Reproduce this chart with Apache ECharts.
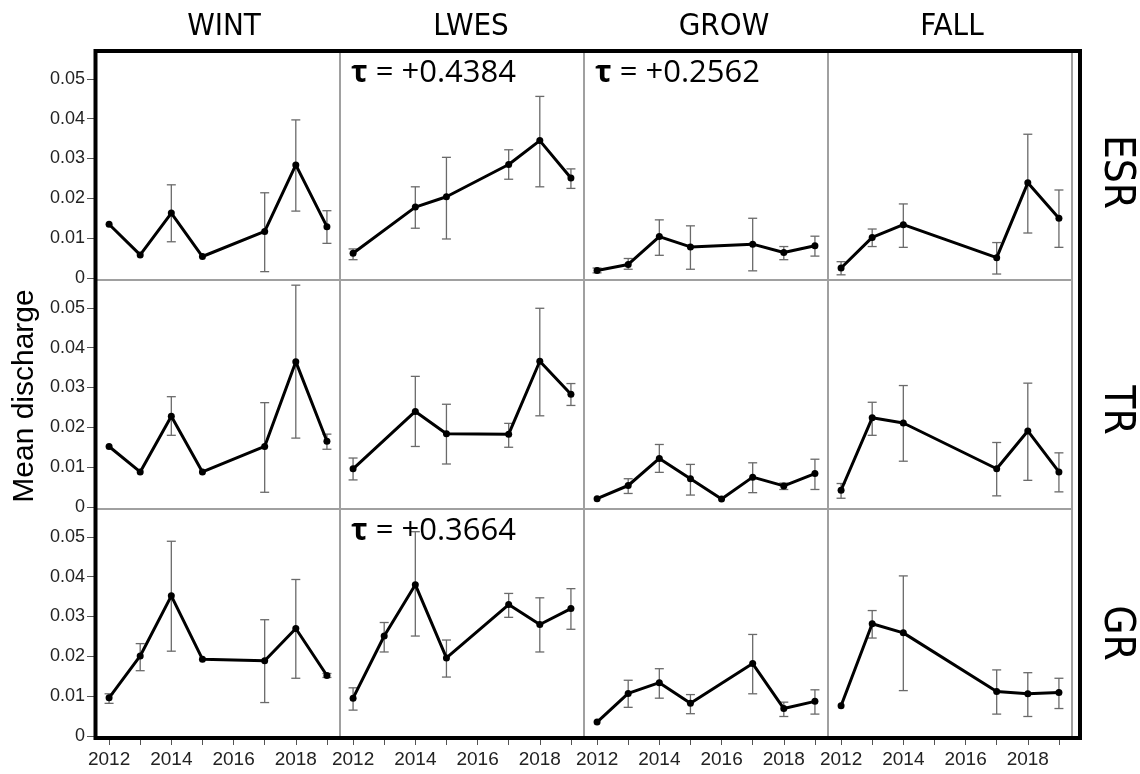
<!DOCTYPE html>
<html><head><meta charset="utf-8">
<script src="https://cdn.jsdelivr.net/npm/echarts@6/dist/echarts.min.js"></script>
<style>html,body{margin:0;padding:0;background:#fff}#c{width:1140px;height:774px}</style>
</head><body><div id="c"></div>
<script>
const seasons = ['WINT', 'LWES', 'GROW', 'FALL'];
const sites = ['ESR', 'TR', 'GR'];
const xTickYears = [2012, 2013, 2014, 2015, 2016, 2017, 2018, 2019];
const xLabelYears = [2012, 2014, 2016, 2018];
const yTicks = [0, 0.01, 0.02, 0.03, 0.04, 0.05];
const yAxisTitle = 'Mean discharge';

// [year, mean]  and  [year, low, high]
const ESR_WINT_mean = [[2012,0.0135],[2013,0.0058],[2014,0.0163],[2015,0.0054],[2017,0.0117],[2018,0.0284],[2019,0.0129]];
const ESR_WINT_err  = [[2014,0.0091,0.0234],[2017,0.0016,0.0214],[2018,0.0168,0.0397],[2019,0.0087,0.0169]];
const ESR_LWES_mean = [[2012,0.0062],[2014,0.0178],[2015,0.0204],[2017,0.0285],[2018,0.0345],[2019,0.0251]];
const ESR_LWES_err  = [[2012,0.0046,0.0073],[2014,0.0125,0.0229],[2015,0.0098,0.0303],[2017,0.0248,0.0322],[2018,0.0229,0.0456],[2019,0.0225,0.0274]];
const ESR_GROW_mean = [[2012,0.0019],[2013,0.0034],[2014,0.0104],[2015,0.0078],[2017,0.0085],[2018,0.0064],[2019,0.0081]];
const ESR_GROW_err  = [[2012,0.0013,0.0025],[2013,0.0022,0.0049],[2014,0.0057,0.0146],[2015,0.0022,0.0131],[2017,0.0018,0.0150],[2018,0.0046,0.0079],[2019,0.0055,0.0105]];
const ESR_FALL_mean = [[2012,0.0025],[2013,0.0102],[2014,0.0134],[2017,0.0051],[2018,0.0239],[2019,0.0150]];
const ESR_FALL_err  = [[2012,0.0008,0.0041],[2013,0.0079,0.0123],[2014,0.0077,0.0186],[2017,0.0010,0.0089],[2018,0.0113,0.0361],[2019,0.0077,0.0221]];

const TR_WINT_mean = [[2012,0.0152],[2013,0.0088],[2014,0.0228],[2015,0.0088],[2017,0.0152],[2018,0.0365],[2019,0.0165]];
const TR_WINT_err  = [[2014,0.0180,0.0277],[2017,0.0037,0.0262],[2018,0.0173,0.0557],[2019,0.0145,0.0183]];
const TR_LWES_mean = [[2012,0.0096],[2014,0.0240],[2015,0.0184],[2017,0.0183],[2018,0.0366],[2019,0.0283]];
const TR_LWES_err  = [[2012,0.0068,0.0123],[2014,0.0152,0.0328],[2015,0.0108,0.0258],[2017,0.0150,0.0210],[2018,0.0229,0.0499],[2019,0.0255,0.0310]];
const TR_GROW_mean = [[2012,0.0021],[2013,0.0054],[2014,0.0122],[2015,0.0071],[2016,0.0020],[2017,0.0075],[2018,0.0053],[2019,0.0084]];
const TR_GROW_err  = [[2013,0.0034,0.0071],[2014,0.0087,0.0157],[2015,0.0030,0.0107],[2017,0.0036,0.0111],[2018,0.0044,0.0060],[2019,0.0044,0.0120]];
const TR_FALL_mean = [[2012,0.0042],[2013,0.0224],[2014,0.0211],[2017,0.0096],[2018,0.0191],[2019,0.0088]];
const TR_FALL_err  = [[2012,0.0022,0.0059],[2013,0.0180,0.0263],[2014,0.0115,0.0305],[2017,0.0028,0.0162],[2018,0.0067,0.0311],[2019,0.0038,0.0136]];

const GR_WINT_mean = [[2012,0.0096],[2013,0.0201],[2014,0.0352],[2015,0.0193],[2017,0.0189],[2018,0.0270],[2019,0.0152]];
const GR_WINT_err  = [[2012,0.0082,0.0106],[2013,0.0164,0.0232],[2014,0.0213,0.0489],[2017,0.0084,0.0292],[2018,0.0145,0.0393],[2019,0.0147,0.0157]];
const GR_LWES_mean = [[2012,0.0095],[2013,0.0251],[2014,0.0380],[2015,0.0196],[2017,0.0330],[2018,0.0280],[2019,0.0320]];
const GR_LWES_err  = [[2012,0.0065,0.0121],[2013,0.0211,0.0285],[2014,0.0251,0.0513],[2015,0.0148,0.0241],[2017,0.0298,0.0358],[2018,0.0211,0.0347],[2019,0.0268,0.0370]];
const GR_GROW_mean = [[2012,0.0035],[2013,0.0107],[2014,0.0134],[2015,0.0082],[2017,0.0182],[2018,0.0069],[2019,0.0087]];
const GR_GROW_err  = [[2013,0.0072,0.0140],[2014,0.0095,0.0169],[2015,0.0056,0.0104],[2017,0.0106,0.0255],[2018,0.0049,0.0085],[2019,0.0055,0.0116]];
const GR_FALL_mean = [[2012,0.0076],[2013,0.0282],[2014,0.0259],[2017,0.0112],[2018,0.0106],[2019,0.0109]];
const GR_FALL_err  = [[2013,0.0246,0.0315],[2014,0.0114,0.0402],[2017,0.0055,0.0166],[2018,0.0049,0.0159],[2019,0.0069,0.0145]];

// tau annotations: [row, col, text]
const tauNotes = [[0, 1, '+0.4384'], [0, 2, '+0.2562'], [2, 1, '+0.3664']];

const panelData = [
  [[ESR_WINT_mean, ESR_WINT_err], [ESR_LWES_mean, ESR_LWES_err], [ESR_GROW_mean, ESR_GROW_err], [ESR_FALL_mean, ESR_FALL_err]],
  [[TR_WINT_mean, TR_WINT_err], [TR_LWES_mean, TR_LWES_err], [TR_GROW_mean, TR_GROW_err], [TR_FALL_mean, TR_FALL_err]],
  [[GR_WINT_mean, GR_WINT_err], [GR_LWES_mean, GR_LWES_err], [GR_GROW_mean, GR_GROW_err], [GR_FALL_mean, GR_FALL_err]]
];

// layout
const L0 = 96, T0 = 51, PW = 244, PH = 229;
const X_MIN = 2011.58, X_MAX = 2019.42, Y_MIN = -0.0005, Y_MAX = 0.0570;
const SANS = '"Liberation Sans", Arial, Helvetica, sans-serif';
const NARROW = '"Liberation Sans Narrow", "DejaVu Sans Condensed", "Liberation Sans", sans-serif';
const HUMAN = '"Open Sans", "Lato", sans-serif';

const grids = [], xAxes = [], yAxes = [], series = [];
let idx = 0;
for (let r = 0; r < sites.length; r++) {
  for (let c = 0; c < seasons.length; c++) {
    grids.push({ left: L0 + c * PW, top: T0 + r * PH, width: PW, height: PH,
      show: true, borderColor: '#a0a0a0', borderWidth: 2, backgroundColor: 'transparent', containLabel: false });
    const bottom = r === sites.length - 1, left = c === 0;
    xAxes.push({ type: 'value', gridIndex: idx, min: X_MIN, max: X_MAX,
      axisLine: { show: false }, splitLine: { show: false },
      axisTick: { show: bottom, customValues: xTickYears, length: 9, lineStyle: { color: '#555', width: 1 } },
      axisLabel: { show: bottom, customValues: xLabelYears, fontSize: 19, color: '#222', fontFamily: SANS, margin: 12,
        formatter: v => String(Math.round(v)) } });
    yAxes.push({ type: 'value', gridIndex: idx, min: Y_MIN, max: Y_MAX,
      axisLine: { show: false }, splitLine: { show: false },
      axisTick: { show: left, customValues: yTicks, length: 9, lineStyle: { color: '#555', width: 1 } },
      axisLabel: { show: left, customValues: yTicks, fontSize: 18, color: '#222', fontFamily: SANS, margin: 11,
        formatter: v => (Math.abs(v) < 1e-9 ? '0' : v.toFixed(2)) } });
    const [mean, err] = panelData[r][c];
    series.push({ type: 'custom', xAxisIndex: idx, yAxisIndex: idx, data: err, z: 2,
      encode: { x: 0, y: [1, 2] }, silent: true,
      renderItem: (params, api) => {
        const x = api.value(0);
        const pLo = api.coord([x, api.value(1)]);
        const pHi = api.coord([x, api.value(2)]);
        const w = 4.5;
        const st = { stroke: '#6a6a6a', lineWidth: 1.3 };
        return { type: 'group', children: [
          { type: 'line', shape: { x1: pLo[0], y1: pLo[1], x2: pHi[0], y2: pHi[1] }, style: st },
          { type: 'line', shape: { x1: pLo[0] - w, y1: pLo[1], x2: pLo[0] + w, y2: pLo[1] }, style: st },
          { type: 'line', shape: { x1: pHi[0] - w, y1: pHi[1], x2: pHi[0] + w, y2: pHi[1] }, style: st }
        ]};
      } });
    series.push({ type: 'line', xAxisIndex: idx, yAxisIndex: idx, data: mean, z: 3,
      symbol: 'circle', symbolSize: 7, showSymbol: true,
      lineStyle: { color: '#000', width: 3 }, itemStyle: { color: '#000' } });
    idx++;
  }
}

const titleX = [224, 471, 724, 952];
const rowLabelY = [172, 410, 633];
const graphics = [];
// outer frame
graphics.push({ type: 'rect', z: 100, silent: true,
  shape: { x: L0 - 0.5, y: T0, width: seasons.length * PW + 8.5, height: sites.length * PH },
  style: { fill: 'none', stroke: '#000', lineWidth: 4 } });
seasons.forEach((s, c) => graphics.push({ type: 'text', z: 100, x: titleX[c], y: 27,
  style: { text: s, font: '31px ' + NARROW, fill: '#000', align: 'center', verticalAlign: 'middle' } }));
sites.forEach((s, r) => graphics.push({ type: 'text', z: 100, x: 1116, y: rowLabelY[r], rotation: -Math.PI / 2,
  style: { text: s, font: '42px ' + NARROW, fill: '#000', align: 'center', verticalAlign: 'middle' } }));
graphics.push({ type: 'text', z: 100, x: 25, y: 396, rotation: Math.PI / 2,
  style: { text: yAxisTitle, font: '30px ' + SANS, fill: '#000', align: 'center', verticalAlign: 'middle' } });
tauNotes.forEach(([r, c, t]) => graphics.push({ type: 'text', z: 100,
  x: L0 + c * PW + 11, y: T0 + r * PH + 22,
  style: { text: '{b|τ} = ' + t, font: '31px ' + HUMAN, fill: '#000', verticalAlign: 'middle', align: 'left',
    rich: { b: { fontWeight: 'bold', fontSize: 31, fontFamily: HUMAN, fill: '#000' } } } }));

const chart = echarts.init(document.getElementById('c'), null, { renderer: 'canvas' });
chart.setOption({ animation: false, backgroundColor: '#fff', grid: grids, xAxis: xAxes, yAxis: yAxes, series, graphic: graphics });
</script></body></html>
